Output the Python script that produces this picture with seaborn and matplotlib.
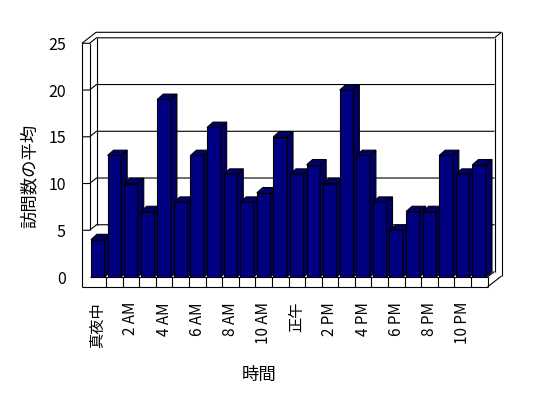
import matplotlib
matplotlib.use("Agg")
import matplotlib.pyplot as plt
import seaborn as sns
import pandas as pd
from matplotlib.patches import Polygon

# ---- data ----
hours = ["真夜中", "1 AM", "2 AM", "3 AM", "4 AM", "5 AM", "6 AM", "7 AM",
         "8 AM", "9 AM", "10 AM", "11 AM", "正午", "1 PM", "2 PM", "3 PM",
         "4 PM", "5 PM", "6 PM", "7 PM", "8 PM", "9 PM", "10 PM", "11 PM"]
visits = [4, 13, 10, 7, 19, 8, 13, 16, 11, 8, 9, 15,
          11, 12, 10, 20, 13, 8, 5, 7, 7, 13, 11, 12]
shown_ticks = list(range(0, 24, 2))
shown_labels = [hours[i] for i in shown_ticks]
y_ticks = [0, 5, 10, 15, 20, 25]
x_title = "時間"
y_title = "訪問数の平均"

sns.set_theme(style="white")
plt.rcParams["font.family"] = ["Noto Sans CJK JP", "DejaVu Sans"]

W, H = 548, 398
fig = plt.figure(figsize=(W / 100, H / 100), dpi=100)
fig.patch.set_facecolor("white")

# front plane of the 3D box (pixels)
left_px, right_px = 89.5, 487.5
bot_px, top_px = 277.0, 43.3
ax = fig.add_axes([left_px / W, (H - bot_px) / H,
                   (right_px - left_px) / W, (bot_px - top_px) / H])

df = pd.DataFrame({x_title: hours, y_title: visits})
sns.barplot(data=df, x=x_title, y=y_title, order=hours, color="#000080",
            saturation=1, width=0.82, edgecolor="black", linewidth=0.8,
            errorbar=None, ax=ax)
ax.set_xlim(-0.5, 23.5)
ax.set_ylim(0, 25)

ppx = (right_px - left_px) / 24.0
ppy = (bot_px - top_px) / 25.0
dx, dy = 7.0 / ppx, 5.5 / ppy          # one depth step (wall)
bdx, bdy = 6.0 / ppx, 5.3 / ppy        # bar depth
fl = 10.0 / ppy                        # floor thickness
xl = -0.5 - 7.5 / ppx                  # left wall outer edge
x0, x1 = -0.5, 23.5
ymax = y_ticks[-1]
LW = 0.8


def line(xs, ys, z=1):
    ax.plot(xs, ys, color="black", lw=LW, clip_on=False, zorder=z,
            solid_capstyle="butt", solid_joinstyle="miter")


# back wall inner gridlines and top edge
for v in y_ticks[1:]:
    line([xl, x0, x0 + dx, x1 + dx], [v, v, v + dy, v + dy])
# back wall outer top edge and left wall top diagonal
line([xl, xl + 2 * dx, x1 + 2 * dx], [ymax, ymax + 2 * dy, ymax + 2 * dy])
# right corner of back wall
line([x1 + dx, x1 + 2 * dx], [ymax + dy, ymax + 2 * dy])
line([x1 + dx, x1 + dx], [ymax + dy, dy])
line([x1 + 2 * dx, x1 + 2 * dx], [ymax + 2 * dy, -fl + 2 * dy])
# left wall
line([xl, xl], [-fl, ymax])
line([x0, x0], [y_ticks[1], ymax])
line([x0 + dx, x0 + dx], [y_ticks[1] + dy, ymax + dy])
# floor
line([x0, x1], [0, 0])
line([xl, x1], [-fl, -fl])
for k in range(1, 25):
    line([x0 + k, x0 + k], [-fl, 0])
line([x1, x1 + dx], [0, dy])
line([x1, x1 + 2 * dx], [-fl, -fl + 2 * dy])

# 3D tops and sides of bars, built from seaborn's bars
bars = list(ax.patches)
for i, p in enumerate(bars):
    x, w, h = p.get_x(), p.get_width(), p.get_height()
    z = 3 + i * 0.01
    p.set_zorder(z)
    top = Polygon([(x, h), (x + w, h), (x + w + bdx, h + bdy), (x + bdx, h + bdy)],
                  closed=True, fc="#000070", ec="black", lw=LW, zorder=z + 0.004,
                  clip_on=False, joinstyle="miter")
    side = Polygon([(x + w, 0), (x + w + bdx, bdy), (x + w + bdx, h + bdy), (x + w, h)],
                   closed=True, fc="#000066", ec="black", lw=LW, zorder=z + 0.003,
                   clip_on=False, joinstyle="miter")
    ax.add_patch(side)
    ax.add_patch(top)

ax.set_xticks(shown_ticks, shown_labels, rotation=90)
ax.set_yticks(y_ticks, [str(v) for v in y_ticks])
ax.tick_params(axis="x", length=0, pad=18, labelsize=11, colors="black")
ax.tick_params(axis="y", length=0, pad=17, labelsize=11.5, colors="black")
for s in ax.spines.values():
    s.set_visible(False)
ax.patch.set_alpha(0)
ax.grid(False)

ax.set_xlabel(x_title, fontsize=12.5, color="black")
ax.set_ylabel(y_title, fontsize=12.5, color="black")
ax.xaxis.set_label_coords((259 - left_px) / (right_px - left_px),
                          (bot_px - 366) / (bot_px - top_px))
ax.yaxis.set_label_coords((38.5 - left_px) / (right_px - left_px),
                          (bot_px - 176) / (bot_px - top_px))

fig.savefig("out.png", dpi=100, facecolor="white")
